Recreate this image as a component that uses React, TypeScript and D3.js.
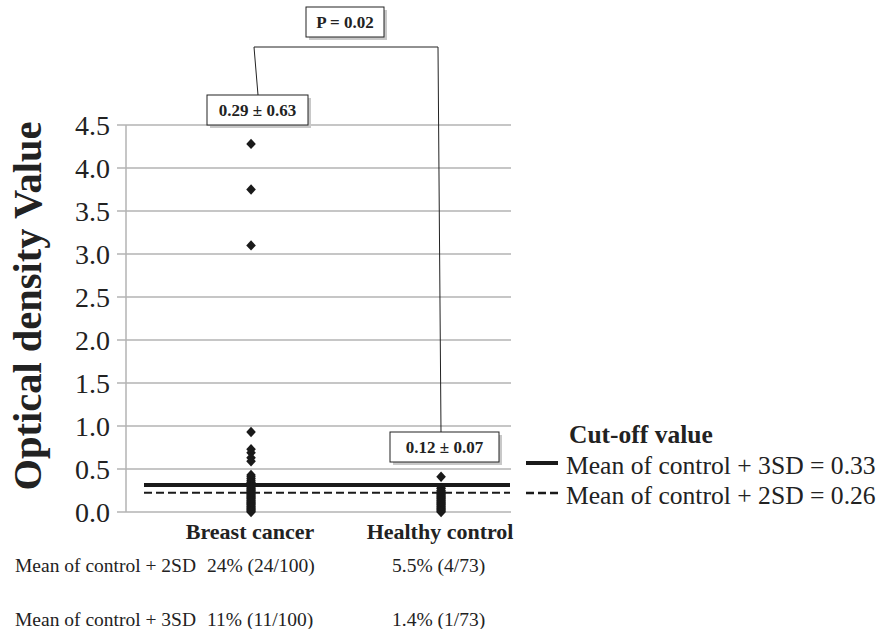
import React from "react";
import * as d3 from "d3";

const categories = ["Breast cancer", "Healthy control"];
const categoryX = [1, 2];
const yTicks = [0, 0.5, 1.0, 1.5, 2.0, 2.5, 3.0, 3.5, 4.0, 4.5];

const breastCancerValues = [
  4.28, 3.75, 3.1, 0.93, 0.73, 0.69, 0.63, 0.59, 0.43, 0.41, 0.39, 0.37, 0.35,
  0.34, 0.33, 0.31, 0.3, 0.29, 0.28, 0.27, 0.26, 0.25, 0.24, 0.23, 0.22, 0.21,
  0.2, 0.19, 0.18, 0.17, 0.16, 0.15, 0.14, 0.13, 0.12, 0.11, 0.1, 0.09, 0.08,
  0.07, 0.06, 0.05, 0.04, 0.03, 0.02, 0.01, 0.0,
];
const healthyControlValues = [
  0.41, 0.28, 0.27, 0.25, 0.24, 0.22, 0.21, 0.2, 0.19, 0.18, 0.17, 0.16, 0.15,
  0.14, 0.13, 0.12, 0.11, 0.1, 0.09, 0.08, 0.07, 0.06, 0.05, 0.04, 0.03, 0.02,
  0.01, 0.0,
];

const cutoff3SD = 0.315;
const cutoff2SD = 0.225;

const meanLabels = ["0.29 ± 0.63", "0.12 ± 0.07"];
const pLabel = "P = 0.02";
const legendTitle = "Cut-off value";
const legendItems = ["Mean of control + 3SD = 0.33", "Mean of control + 2SD = 0.26"];
const tableRows = ["Mean of control + 2SD", "Mean of control + 3SD"];
const tableBreast = ["24% (24/100)", "11% (11/100)"];
const tableHealthy = ["5.5% (4/73)", "1.4% (1/73)"];

const W = 877;
const H = 629;
const serif = "'Liberation Serif', 'Times New Roman', serif";

export default function App() {
  const x = d3.scaleLinear().domain([0.342, 2.368]).range([126, 511]);
  const y = d3.scaleLinear().domain([0, 4.5]).range([512, 125]);
  const diamond = "M0,-5.2L4.8,0L0,5.2L-4.8,0Z";
  const grid = "#b3b3b3";

  const xb = x(categoryX[0]);
  const xh = x(categoryX[1]);

  const Box = ({ cx, top, w, h, text }: any) => (
    <g>
      <rect x={cx - w / 2 + 3} y={top + 3} width={w} height={h} fill="#c8c8c8" />
      <rect x={cx - w / 2} y={top} width={w} height={h} fill="#fff" stroke="#222" strokeWidth={1} />
      <text x={cx} y={top + h / 2 + 6} textAnchor="middle" fontFamily={serif} fontWeight="bold" fontSize={17} fill="#222">
        {text}
      </text>
    </g>
  );

  return (
    <svg width={W} height={H} style={{ position: "absolute", left: 0, top: 0, background: "#fff" }}>
      {yTicks.map((t) => (
        <g key={t}>
          <line x1={117} x2={511} y1={y(t)} y2={y(t)} stroke={grid} strokeWidth={1.5} />
          <text x={110} y={y(t) + 9.5} textAnchor="end" fontFamily={serif} fontSize={28} fill="#222">
            {t.toFixed(1)}
          </text>
        </g>
      ))}
      <line x1={126} x2={126} y1={y(4.5)} y2={y(0)} stroke={grid} strokeWidth={1.5} />

      <text
        transform={`translate(41,306) rotate(-90)`}
        textAnchor="middle"
        fontFamily={serif}
        fontWeight="bold"
        fontSize={40.5}
        fill="#222"
      >
        Optical density Value
      </text>

      <line x1={144} x2={510} y1={y(cutoff3SD)} y2={y(cutoff3SD)} stroke="#1a1a1a" strokeWidth={4} />
      <line x1={144} x2={510} y1={y(cutoff2SD)} y2={y(cutoff2SD)} stroke="#1a1a1a" strokeWidth={2} strokeDasharray="8,4" />

      {breastCancerValues.map((v, i) => (
        <path key={"b" + i} d={diamond} transform={`translate(${xb},${y(v)})`} fill="#1a1a1a" />
      ))}
      {healthyControlValues.map((v, i) => (
        <path key={"h" + i} d={diamond} transform={`translate(${xh},${y(v)})`} fill="#1a1a1a" />
      ))}

      <polyline points={`258,95 254,47 438,47 441,432`} fill="none" stroke="#222" strokeWidth={1} />
      <Box cx={257.5} top={95} w={101} h={30} text={meanLabels[0]} />
      <Box cx={444.5} top={432} w={109} h={30} text={meanLabels[1]} />
      <Box cx={345} top={7} w={78} h={30} text={pLabel} />

      {categories.map((c, i) => (
        <text key={c} x={x(categoryX[i]) - 1} y={539} textAnchor="middle" fontFamily={serif} fontWeight="bold" fontSize={22} fill="#222">
          {c}
        </text>
      ))}

      <text x={569} y={443} fontFamily={serif} fontWeight="bold" fontSize={25.5} fill="#222">
        {legendTitle}
      </text>
      <line x1={526} x2={558} y1={463} y2={463} stroke="#1a1a1a" strokeWidth={4} />
      <text x={566} y={474} fontFamily={serif} fontSize={25.6} fill="#222">
        {legendItems[0]}
      </text>
      <line x1={526} x2={558} y1={493} y2={493} stroke="#1a1a1a" strokeWidth={2.5} strokeDasharray="8,4" />
      <text x={566} y={504} fontFamily={serif} fontSize={25.6} fill="#222">
        {legendItems[1]}
      </text>

      {tableRows.map((r, i) => (
        <g key={r}>
          <text x={15} y={572 + i * 54} fontFamily={serif} fontSize={19.5} fill="#222">
            {r}
          </text>
          <text x={207} y={572 + i * 54} fontFamily={serif} fontSize={19.5} fill="#222">
            {tableBreast[i]}
          </text>
          <text x={392} y={572 + i * 54} fontFamily={serif} fontSize={19.5} fill="#222">
            {tableHealthy[i]}
          </text>
        </g>
      ))}
    </svg>
  );
}
